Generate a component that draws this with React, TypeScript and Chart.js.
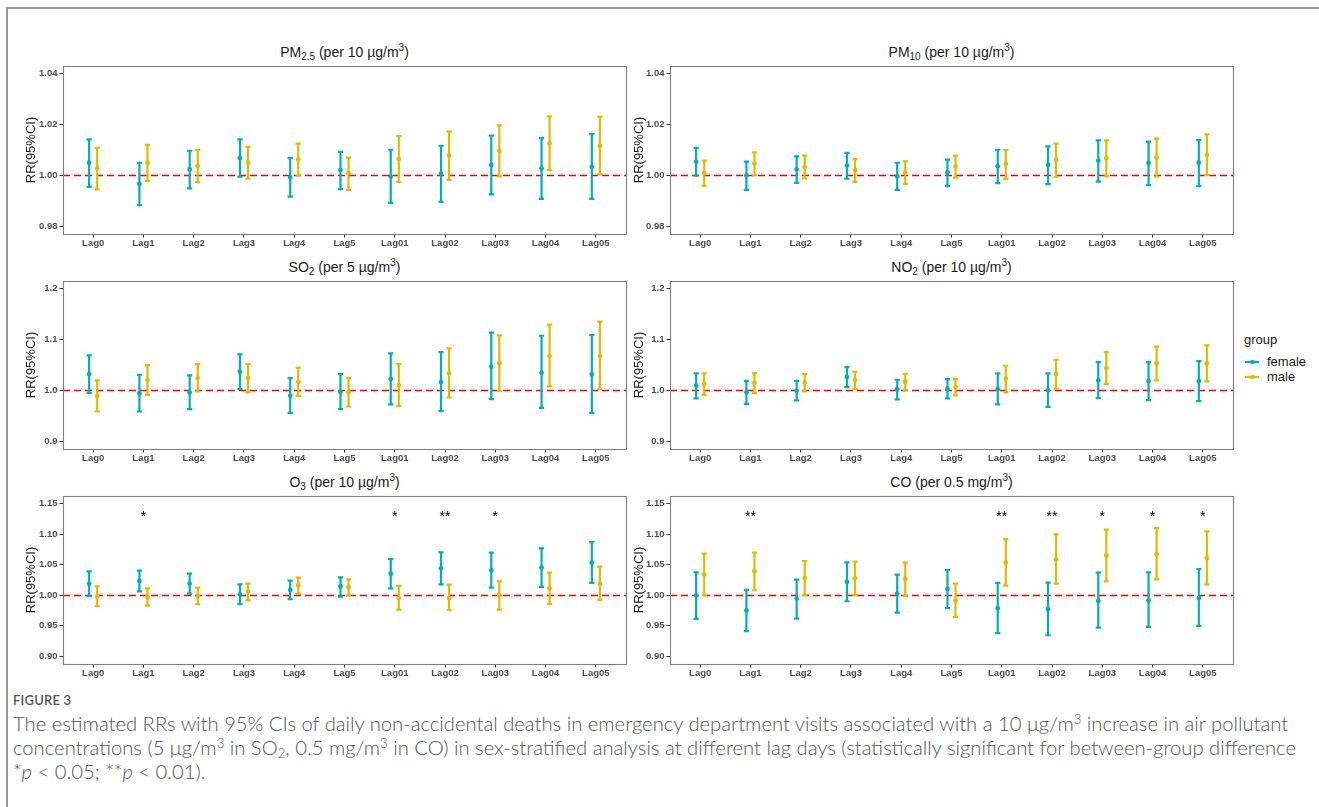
import React, { useEffect, useLayoutEffect, useRef } from 'react';
import { Chart, registerables } from 'chart.js';

Chart.register(...registerables);

// ---------------- data ----------------
const categories = ['Lag0', 'Lag1', 'Lag2', 'Lag3', 'Lag4', 'Lag5', 'Lag01', 'Lag02', 'Lag03', 'Lag04', 'Lag05'];
const groupNames = ['female', 'male'];

const pm25FemaleRR = [1.0050, 0.9966, 1.0024, 1.0068, 0.9992, 1.0021, 0.9996, 1.0007, 1.0041, 1.0028, 1.0034];
const pm25FemaleLo = [0.9955, 0.9883, 0.9949, 0.9995, 0.9917, 0.9946, 0.9892, 0.9896, 0.9926, 0.9908, 0.9908];
const pm25FemaleHi = [1.0142, 1.0050, 1.0097, 1.0142, 1.0068, 1.0093, 1.0101, 1.0116, 1.0157, 1.0147, 1.0162];
const pm25MaleRR = [1.0028, 1.0050, 1.0037, 1.0050, 1.0063, 1.0009, 1.0064, 1.0078, 1.0097, 1.0126, 1.0117];
const pm25MaleLo = [0.9945, 0.9979, 0.9974, 0.9987, 1.0000, 0.9943, 0.9975, 0.9983, 0.9996, 1.0021, 1.0005];
const pm25MaleHi = [1.0108, 1.0120, 1.0100, 1.0112, 1.0125, 1.0070, 1.0155, 1.0172, 1.0197, 1.0232, 1.0230];

const pm10FemaleRR = [1.0054, 1.0000, 1.0024, 1.0039, 0.9997, 1.0012, 1.0036, 1.0041, 1.0058, 1.0049, 1.0050];
const pm10FemaleLo = [0.9999, 0.9943, 0.9971, 0.9987, 0.9943, 0.9958, 0.9970, 0.9966, 0.9976, 0.9962, 0.9958];
const pm10FemaleHi = [1.0108, 1.0054, 1.0075, 1.0089, 1.0050, 1.0062, 1.0100, 1.0114, 1.0138, 1.0133, 1.0139];
const pm10MaleRR = [1.0009, 1.0046, 1.0033, 1.0021, 1.0012, 1.0036, 1.0045, 1.0061, 1.0068, 1.0070, 1.0080];
const pm10MaleLo = [0.9958, 1.0000, 0.9988, 0.9975, 0.9967, 0.9991, 0.9986, 0.9995, 0.9996, 0.9995, 1.0001];
const pm10MaleHi = [1.0058, 1.0091, 1.0078, 1.0064, 1.0055, 1.0078, 1.0100, 1.0125, 1.0138, 1.0145, 1.0161];

const so2FemaleRR = [1.0321, 0.9941, 0.9961, 1.0367, 0.9895, 0.9974, 1.0223, 1.0164, 1.0466, 1.0348, 1.0315];
const so2FemaleLo = [0.9954, 0.9587, 0.9633, 1.0026, 0.9561, 0.9633, 0.9725, 0.9593, 0.9830, 0.9659, 0.9561];
const so2FemaleHi = [1.0689, 1.0308, 1.0295, 1.0708, 1.0243, 1.0321, 1.0728, 1.0754, 1.1134, 1.1075, 1.1089];
const so2MaleRR = [0.9889, 1.0203, 1.0243, 1.0243, 1.0170, 0.9967, 1.0105, 1.0334, 1.0531, 1.0675, 1.0675];
const so2MaleLo = [0.9587, 0.9915, 0.9980, 0.9961, 0.9895, 0.9685, 0.9698, 0.9862, 0.9993, 1.0079, 1.0033];
const so2MaleHi = [1.0197, 1.0498, 1.0518, 1.0518, 1.0446, 1.0249, 1.0518, 1.0826, 1.1082, 1.1292, 1.1351];

const no2FemaleRR = [1.0092, 0.9967, 0.9993, 1.0262, 1.0020, 1.0033, 1.0026, 1.0000, 1.0197, 1.0184, 1.0184];
const no2FemaleLo = [0.9843, 0.9738, 0.9803, 1.0066, 0.9823, 0.9843, 0.9725, 0.9679, 0.9849, 0.9810, 0.9790];
const no2FemaleHi = [1.0334, 1.0190, 1.0190, 1.0459, 1.0210, 1.0223, 1.0334, 1.0334, 1.0557, 1.0557, 1.0577];
const no2MaleRR = [1.0125, 1.0151, 1.0151, 1.0203, 1.0170, 1.0066, 1.0230, 1.0321, 1.0439, 1.0531, 1.0531];
const no2MaleLo = [0.9915, 0.9948, 0.9980, 1.0026, 1.0000, 0.9902, 0.9961, 1.0033, 1.0131, 1.0197, 1.0177];
const no2MaleHi = [1.0334, 1.0341, 1.0321, 1.0367, 1.0328, 1.0223, 1.0485, 1.0603, 1.0754, 1.0859, 1.0885];

const o3FemaleRR = [1.0191, 1.0234, 1.0191, 1.0016, 1.0087, 1.0147, 1.0354, 1.0441, 1.0408, 1.0452, 1.0534];
const o3FemaleLo = [0.9984, 1.0065, 1.0027, 0.9858, 0.9935, 0.9978, 1.0114, 1.0180, 1.0125, 1.0136, 1.0202];
const o3FemaleHi = [1.0392, 1.0403, 1.0354, 1.0180, 1.0240, 1.0294, 1.0594, 1.0703, 1.0697, 1.0768, 1.0871];
const o3MaleRR = [0.9978, 0.9973, 0.9989, 1.0060, 1.0163, 1.0131, 0.9956, 0.9956, 1.0000, 1.0114, 1.0191];
const o3MaleLo = [0.9820, 0.9831, 0.9853, 0.9918, 1.0027, 0.9995, 0.9766, 0.9755, 0.9766, 0.9858, 0.9924];
const o3MaleHi = [1.0147, 1.0114, 1.0125, 1.0191, 1.0289, 1.0261, 1.0153, 1.0174, 1.0229, 1.0370, 1.0468];

const coFemaleRR = [0.9995, 0.9749, 0.9946, 1.0218, 1.0027, 1.0103, 0.9788, 0.9771, 0.9907, 0.9913, 0.9956];
const coFemaleLo = [0.9613, 0.9412, 0.9619, 0.9902, 0.9717, 0.9788, 0.9379, 0.9346, 0.9472, 0.9483, 0.9499];
const coFemaleHi = [1.0376, 1.0087, 1.0256, 1.0539, 1.0338, 1.0414, 1.0202, 1.0207, 1.0370, 1.0376, 1.0430];
const coMaleRR = [1.0338, 1.0392, 1.0283, 1.0278, 1.0267, 0.9913, 1.0534, 1.0588, 1.0648, 1.0675, 1.0610];
const coMaleLo = [1.0000, 1.0082, 1.0005, 1.0005, 0.9995, 0.9646, 1.0158, 1.0191, 1.0229, 1.0261, 1.0180];
const coMaleHi = [1.0681, 1.0697, 1.0561, 1.0550, 1.0534, 1.0191, 1.0920, 1.0997, 1.1073, 1.1100, 1.1046];

const o3Stars = ['', '*', '', '', '', '', '*', '**', '*', '', ''];
const coStars = ['', '**', '', '', '', '', '**', '**', '*', '*', '*'];

const row1Ticks = [0.98, 1.0, 1.02, 1.04];
const row1TickLabels = ['0.98', '1.00', '1.02', '1.04'];
const row2Ticks = [0.9, 1.0, 1.1, 1.2];
const row2TickLabels = ['0.9', '1.0', '1.1', '1.2'];
const row3Ticks = [0.9, 0.95, 1.0, 1.05, 1.1, 1.15];
const row3TickLabels = ['0.90', '0.95', '1.00', '1.05', '1.10', '1.15'];

// y limits (ylim with ggplot 5% expansion)
const row1Limits = [0.977, 1.043];
const row2Limits = [0.885, 1.215];
const row3Limits = [0.8875, 1.1625];

// ---------------- styles ----------------
const FEMALE = '#00AFBB';
const MALE = '#E7B800';
const DODGE = 0.08;
const CAP_HALF = 2.6;
const STAR_LEVEL = 1.134;
const FONT = "'Liberation Sans', Arial, Helvetica, sans-serif";

const COL_PLOT_LEFT = [63, 670];
const COL_PLOT_RIGHT = [626, 1233];
const COL_CANVAS_LEFT = [24, 632];
const ROW_PLOT_TOP = [66, 281, 496];
const PLOT_H = 168;
const PAD_TOP = 12;
const X_AXIS_H = 22;
const PAD_RIGHT = 4;

const subStyle: React.CSSProperties = { fontSize: 10, position: 'relative', top: 3, lineHeight: 0 };
const supStyle: React.CSSProperties = { fontSize: 10, position: 'relative', top: -6, lineHeight: 0 };

type PanelCfg = {
  key: string;
  title: React.ReactNode;
  col: number;
  row: number;
  fRR: number[]; fLo: number[]; fHi: number[];
  mRR: number[]; mLo: number[]; mHi: number[];
  ticks: number[];
  tickLabels: string[];
  limits: number[];
  stars: string[] | null;
};

const panels: PanelCfg[] = [
  {
    key: 'pm25', col: 0, row: 0,
    title: <>PM<span style={subStyle}>2.5</span> (per 10 µg/m<span style={supStyle}>3</span>)</>,
    fRR: pm25FemaleRR, fLo: pm25FemaleLo, fHi: pm25FemaleHi,
    mRR: pm25MaleRR, mLo: pm25MaleLo, mHi: pm25MaleHi,
    ticks: row1Ticks, tickLabels: row1TickLabels, limits: row1Limits, stars: null,
  },
  {
    key: 'pm10', col: 1, row: 0,
    title: <>PM<span style={subStyle}>10</span> (per 10 µg/m<span style={supStyle}>3</span>)</>,
    fRR: pm10FemaleRR, fLo: pm10FemaleLo, fHi: pm10FemaleHi,
    mRR: pm10MaleRR, mLo: pm10MaleLo, mHi: pm10MaleHi,
    ticks: row1Ticks, tickLabels: row1TickLabels, limits: row1Limits, stars: null,
  },
  {
    key: 'so2', col: 0, row: 1,
    title: <>SO<span style={subStyle}>2</span> (per 5 µg/m<span style={supStyle}>3</span>)</>,
    fRR: so2FemaleRR, fLo: so2FemaleLo, fHi: so2FemaleHi,
    mRR: so2MaleRR, mLo: so2MaleLo, mHi: so2MaleHi,
    ticks: row2Ticks, tickLabels: row2TickLabels, limits: row2Limits, stars: null,
  },
  {
    key: 'no2', col: 1, row: 1,
    title: <>NO<span style={subStyle}>2</span> (per 10 µg/m<span style={supStyle}>3</span>)</>,
    fRR: no2FemaleRR, fLo: no2FemaleLo, fHi: no2FemaleHi,
    mRR: no2MaleRR, mLo: no2MaleLo, mHi: no2MaleHi,
    ticks: row2Ticks, tickLabels: row2TickLabels, limits: row2Limits, stars: null,
  },
  {
    key: 'o3', col: 0, row: 2,
    title: <>O<span style={subStyle}>3</span> (per 10 µg/m<span style={supStyle}>3</span>)</>,
    fRR: o3FemaleRR, fLo: o3FemaleLo, fHi: o3FemaleHi,
    mRR: o3MaleRR, mLo: o3MaleLo, mHi: o3MaleHi,
    ticks: row3Ticks, tickLabels: row3TickLabels, limits: row3Limits, stars: o3Stars,
  },
  {
    key: 'co', col: 1, row: 2,
    title: <>CO (per 0.5 mg/m<span style={supStyle}>3</span>)</>,
    fRR: coFemaleRR, fLo: coFemaleLo, fHi: coFemaleHi,
    mRR: coMaleRR, mLo: coMaleLo, mHi: coMaleHi,
    ticks: row3Ticks, tickLabels: row3TickLabels, limits: row3Limits, stars: coStars,
  },
];

function Panel({ cfg }: { cfg: PanelCfg }) {
  const ref = useRef<HTMLCanvasElement>(null);
  const canvasLeft = COL_CANVAS_LEFT[cfg.col];
  const plotLeft = COL_PLOT_LEFT[cfg.col];
  const plotRight = COL_PLOT_RIGHT[cfg.col];
  const plotTop = ROW_PLOT_TOP[cfg.row];
  const width = plotRight + PAD_RIGHT - canvasLeft;
  const height = PAD_TOP + PLOT_H + X_AXIS_H;
  const yWidth = plotLeft - canvasLeft;

  useEffect(() => {
    if (!ref.current) return;
    const mk = (rr: number[], lo: number[], hi: number[], off: number) =>
      rr.map((v, i) => ({ x: i + off, y: v, lo: lo[i], hi: hi[i] }));

    const decor = {
      id: 'panelDecor',
      beforeDatasetsDraw(chart: any) {
        const { ctx, chartArea: a, scales } = chart;
        const x = scales.x;
        const y = scales.y;
        ctx.save();
        const yr = Math.round(y.getPixelForValue(1)) + 0.5;
        ctx.beginPath();
        ctx.setLineDash([7, 4]);
        ctx.strokeStyle = '#FF0000';
        ctx.lineWidth = 1.4;
        ctx.moveTo(a.left, yr);
        ctx.lineTo(a.right, yr);
        ctx.stroke();
        ctx.setLineDash([]);
        chart.data.datasets.forEach((ds: any) => {
          ctx.strokeStyle = ds.borderColor;
          ctx.lineWidth = 2.2;
          ds.data.forEach((p: any) => {
            const px = x.getPixelForValue(p.x);
            const yl = y.getPixelForValue(p.lo);
            const yh = y.getPixelForValue(p.hi);
            ctx.beginPath();
            ctx.moveTo(px, yl);
            ctx.lineTo(px, yh);
            ctx.moveTo(px - CAP_HALF, yl);
            ctx.lineTo(px + CAP_HALF, yl);
            ctx.moveTo(px - CAP_HALF, yh);
            ctx.lineTo(px + CAP_HALF, yh);
            ctx.stroke();
          });
        });
        ctx.restore();
      },
      afterDraw(chart: any) {
        const { ctx, chartArea: a, scales } = chart;
        ctx.save();
        ctx.strokeStyle = '#7f7f7f';
        ctx.lineWidth = 1.1;
        ctx.strokeRect(Math.round(a.left) + 0.5, Math.round(a.top) + 0.5, Math.round(a.right - a.left), Math.round(a.bottom - a.top));
        if (cfg.stars) {
          ctx.fillStyle = '#000000';
          ctx.font = `14px ${FONT}`;
          ctx.textAlign = 'center';
          ctx.textBaseline = 'alphabetic';
          cfg.stars.forEach((s, i) => {
            if (!s) return;
            const px = scales.x.getPixelForValue(i);
            const py = scales.y.getPixelForValue(STAR_LEVEL) + 8;
            ctx.fillText(s, px, py);
          });
        }
        ctx.restore();
      },
    };

    const tickFont = { family: FONT, size: 9.5, weight: 'bold' as const };
    const chart = new Chart(ref.current, {
      type: 'scatter',
      data: {
        datasets: [
          {
            label: groupNames[0],
            data: mk(cfg.fRR, cfg.fLo, cfg.fHi, -DODGE),
            backgroundColor: FEMALE,
            borderColor: FEMALE,
            pointRadius: 2.4,
            pointBorderWidth: 0,
          },
          {
            label: groupNames[1],
            data: mk(cfg.mRR, cfg.mLo, cfg.mHi, DODGE),
            backgroundColor: MALE,
            borderColor: MALE,
            pointRadius: 2.4,
            pointBorderWidth: 0,
          },
        ],
      },
      options: {
        animation: false,
        responsive: false,
        events: [],
        layout: { padding: { left: 0, right: PAD_RIGHT, top: PAD_TOP, bottom: 0 } },
        plugins: { legend: { display: false }, tooltip: { enabled: false } },
        scales: {
          x: {
            type: 'linear',
            min: -0.6,
            max: 10.6,
            afterBuildTicks: (s: any) => {
              s.ticks = categories.map((_, i) => ({ value: i }));
            },
            afterFit: (s: any) => {
              s.height = X_AXIS_H;
            },
            ticks: {
              autoSkip: false,
              maxRotation: 0,
              padding: 0,
              font: tickFont,
              color: '#4D4D4D',
              callback: (_v: any, i: number) => categories[i],
            },
            grid: { display: true, drawOnChartArea: false, drawTicks: true, tickLength: 3.5, color: '#333333', lineWidth: 1 },
            border: { display: false },
          },
          y: {
            type: 'linear',
            min: cfg.limits[0],
            max: cfg.limits[1],
            afterBuildTicks: (s: any) => {
              s.ticks = cfg.ticks.map((v) => ({ value: v }));
            },
            afterFit: (s: any) => {
              s.width = yWidth;
            },
            ticks: {
              padding: 2,
              font: tickFont,
              color: '#4D4D4D',
              callback: (_v: any, i: number) => cfg.tickLabels[i],
            },
            title: {
              display: true,
              text: 'RR(95%CI)',
              font: { family: FONT, size: 13 },
              color: '#1a1a1a',
              padding: { top: 0, bottom: 0 },
            },
            grid: { display: true, drawOnChartArea: false, drawTicks: true, tickLength: 3.5, color: '#333333', lineWidth: 1 },
            border: { display: false },
          },
        },
      } as any,
      plugins: [decor],
    });
    return () => chart.destroy();
  }, []);

  return (
    <>
      <div
        style={{
          position: 'absolute',
          left: (plotLeft + plotRight) / 2,
          top: plotTop - 14 - 9,
          transform: 'translateX(-50%)',
          whiteSpace: 'nowrap',
          fontFamily: FONT,
          fontSize: 14,
          lineHeight: '18px',
          color: '#1a1a1a',
        }}
      >
        {cfg.title}
      </div>
      <canvas
        ref={ref}
        width={width}
        height={height}
        style={{ position: 'absolute', left: canvasLeft, top: plotTop - PAD_TOP, width, height, display: 'block' }}
      />
    </>
  );
}

function Legend() {
  const item = (label: string, color: string, cy: number) => (
    <div key={label} style={{ position: 'absolute', left: 1245, top: cy - 9, height: 18, width: 80 }}>
      <div style={{ position: 'absolute', left: 0, top: 8, width: 14, height: 2, background: color }} />
      <div style={{ position: 'absolute', left: 5, top: 6.6, width: 4.8, height: 4.8, borderRadius: '50%', background: color }} />
      <div style={{ position: 'absolute', left: 22, top: 0, lineHeight: '18px', fontSize: 13, fontFamily: FONT, color: '#1a1a1a' }}>{label}</div>
    </div>
  );
  return (
    <>
      <div style={{ position: 'absolute', left: 1244, top: 340 - 9, lineHeight: '18px', fontSize: 13, fontFamily: FONT, color: '#1a1a1a' }}>group</div>
      {item(groupNames[0], FEMALE, 362)}
      {item(groupNames[1], MALE, 377)}
    </>
  );
}

function Caption() {
  const boxRef = useRef<HTMLDivElement>(null);
  const l2Ref = useRef<HTMLSpanElement>(null);
  useLayoutEffect(() => {
    if (!boxRef.current || !l2Ref.current) return;
    const w = l2Ref.current.getBoundingClientRect().width;
    if (w > 0) boxRef.current.style.fontSize = ((17 * 1284) / w).toFixed(2) + 'px';
  }, []);
  const lineStyle = (cy: number): React.CSSProperties => ({
    position: 'absolute',
    left: 13,
    top: cy - 12,
    height: 24,
    lineHeight: '24px',
    whiteSpace: 'nowrap',
  });
  const sup: React.CSSProperties = { fontSize: '0.65em', position: 'relative', top: '-0.55em', lineHeight: 0 };
  const sub: React.CSSProperties = { fontSize: '0.65em', position: 'relative', top: '0.25em', lineHeight: 0 };
  return (
    <>
      <div style={{ position: 'absolute', left: 13, top: 700 - 10, lineHeight: '20px', fontFamily: 'Lato, sans-serif', fontSize: 13, fontWeight: 600, color: '#555555', letterSpacing: 0.2 }}>
        FIGURE 3
      </div>
      <div ref={boxRef} style={{ fontFamily: 'Lato, sans-serif', fontSize: 17, fontWeight: 300, color: '#555555' }}>
        <div style={lineStyle(723)}>
          The estimated RRs with 95% CIs of daily non-accidental deaths in emergency department visits associated with a 10 μg/m<span style={sup}>3</span> increase in air pollutant
        </div>
        <div style={lineStyle(747)}>
          <span ref={l2Ref}>
            concentrations (5 μg/m<span style={sup}>3</span> in SO<span style={sub}>2</span>, 0.5 mg/m<span style={sup}>3</span> in CO) in sex-stratified analysis at different lag days (statistically significant for between-group difference
          </span>
        </div>
        <div style={lineStyle(771)}>
          *<i>p</i> &lt; 0.05; **<i>p</i> &lt; 0.01).
        </div>
      </div>
    </>
  );
}

export default function App() {
  return (
    <div style={{ position: 'absolute', left: 0, top: 0, width: 1319, height: 807, overflow: 'hidden', background: '#ffffff' }}>
      <div style={{ position: 'absolute', left: 6, top: 7, width: 1400, height: 900, borderTop: '2px solid #9a9a9a', borderLeft: '2px solid #9a9a9a' }} />
      {panels.map((p) => (
        <Panel key={p.key} cfg={p} />
      ))}
      <Legend />
      <Caption />
    </div>
  );
}
